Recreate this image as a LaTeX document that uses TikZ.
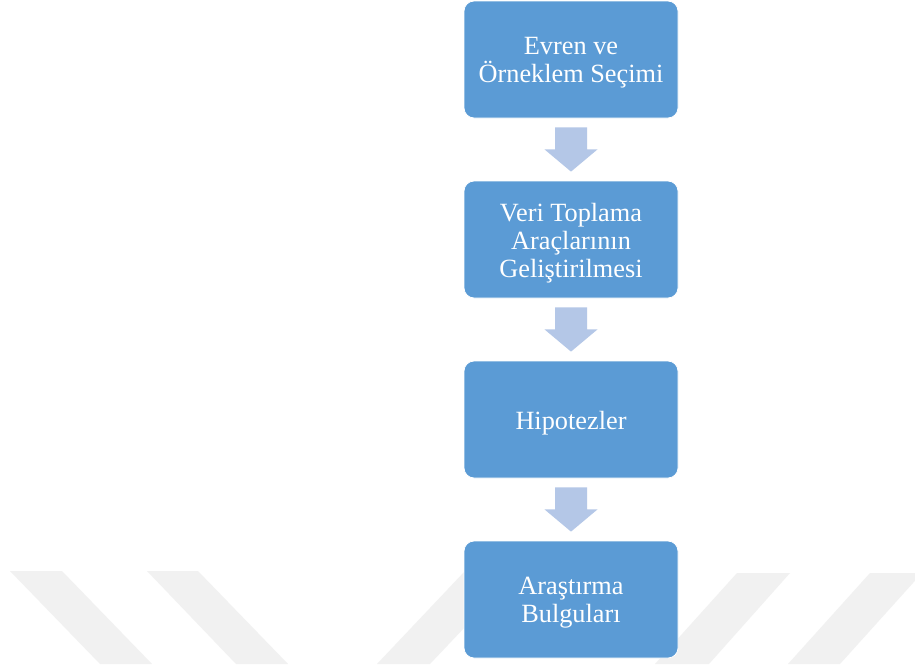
\documentclass[tikz,border=0pt]{standalone}
\usepackage{fontspec}
\setmainfont{Liberation Serif}
\usetikzlibrary{calc}

\definecolor{stepblue}{HTML}{5B9BD5}
\definecolor{flowblue}{HTML}{B4C7E7}
\definecolor{markgray}{HTML}{F1F1F1}

% centred step label, set a little below the geometric centre of its box
\newcommand\steplabel[1]{\raisebox{-3.5pt}[\height][\depth]{\parbox{204pt}{\centering #1}}}

\tikzset{
  stepbox/.style={rectangle, rounded corners=10pt, fill=stepblue, draw=white,
    line width=0.8pt, minimum width=214pt, minimum height=117pt,
    inner sep=0pt, text=white,
    font=\fontsize{26.3}{28}\selectfont},
  flowarrow/.style={fill=flowblue, draw=none},
  stripe/.style={fill=markgray, draw=none}
}

\begin{document}
\begin{tikzpicture}[x=1pt, y=-1pt]
  % page frame
  \useasboundingbox (0,0) rectangle (915,664);
  \fill[white] (0,0) rectangle (915,664);

  % faint diagonal background stripes
  \fill[stripe] (10,571) -- (62,571) -- (152,664) -- (100,664) -- cycle;
  \fill[stripe] (147,571) -- (198,571) -- (288,664) -- (236,664) -- cycle;
  \fill[stripe] (465,571) -- (518,571) -- (430,664) -- (377,664) -- cycle;
  \fill[stripe] (737,573) -- (790,573) -- (709,664) -- (655,664) -- cycle;
  \fill[stripe] (870,573) -- (922,573) -- (840,664) -- (788,664) -- cycle;

  % process steps
  \node[stepbox] (b1) at (571,59.5)  {\steplabel{Evren ve\\Örneklem Seçimi}};
  \node[stepbox] (b2) at (571,239.5) {\steplabel{Veri Toplama\\Araçlarının\\Geliştirilmesi}};
  \node[stepbox] (b3) at (571,419.5) {\steplabel{Hipotezler}};
  \node[stepbox] (b4) at (571,599.5) {\steplabel{Araştırma\\Bulguları}};

  % block arrows between consecutive steps
  \foreach \a/\b in {b1/b2, b2/b3, b3/b4} {
    \fill[flowarrow] let \p1=(\a.south), \p2=(\b.north) in
      (\x1-16pt,\y1-9pt) -- (\x1+16pt,\y1-9pt) -- (\x1+16pt,\y1-31pt)
      -- (\x1+26.5pt,\y1-31pt) -- (\x2,\y2+9pt) -- (\x1-26.5pt,\y1-31pt)
      -- (\x1-16pt,\y1-31pt) -- cycle;
  }
\end{tikzpicture}
\end{document}
